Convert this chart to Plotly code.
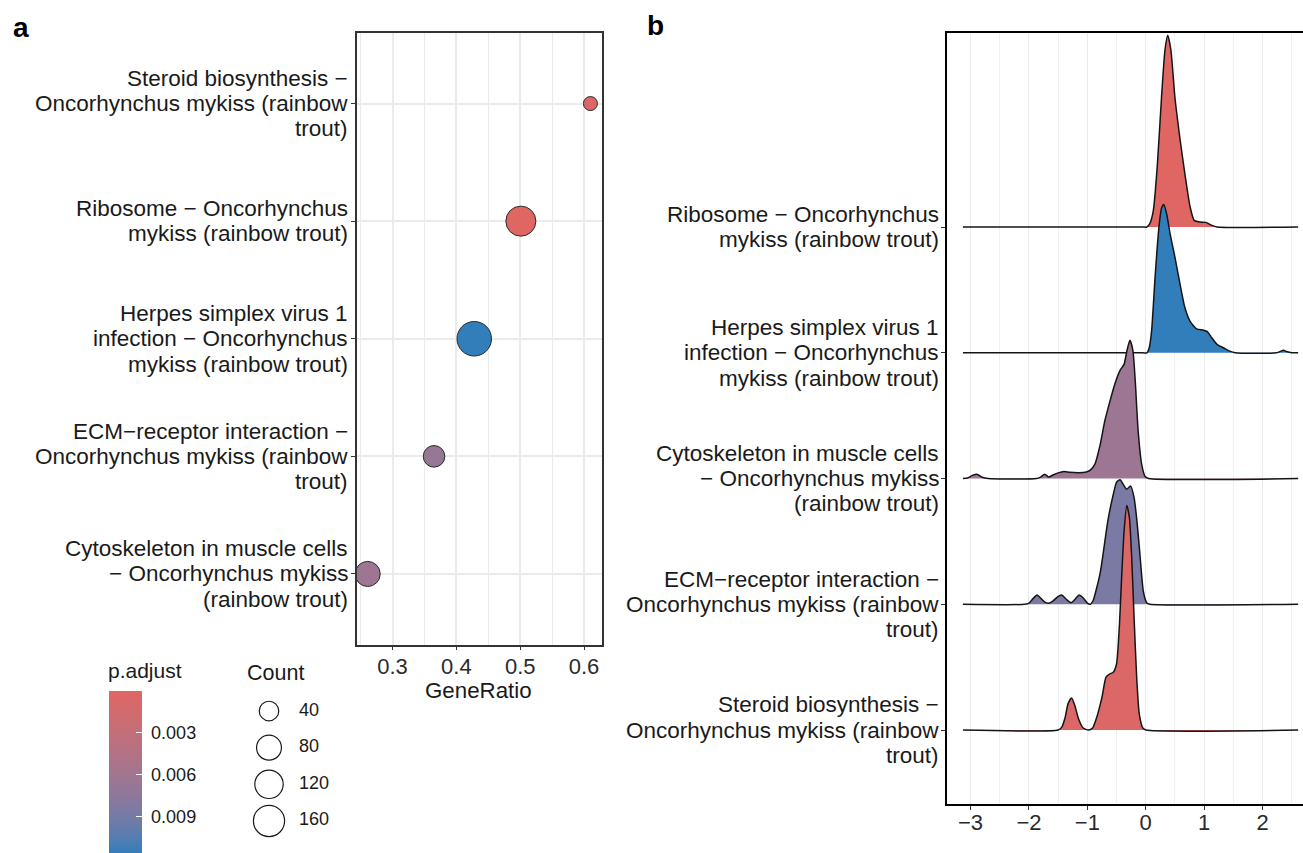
import math
import plotly.graph_objects as go

W, H = 1303, 853

# ---------------- data: panel a (dot plot) ----------------
dot_terms = [
    "Steroid biosynthesis − Oncorhynchus mykiss (rainbow trout)",
    "Ribosome − Oncorhynchus mykiss (rainbow trout)",
    "Herpes simplex virus 1 infection − Oncorhynchus mykiss (rainbow trout)",
    "ECM−receptor interaction − Oncorhynchus mykiss (rainbow trout)",
    "Cytoskeleton in muscle cells − Oncorhynchus mykiss (rainbow trout)",
]
gene_ratio = [0.610, 0.501, 0.428, 0.365, 0.261]
gene_count = [26, 143, 217, 52, 82]
p_adjust_dot = [0.00035, 0.00002, 0.0116, 0.0069, 0.0062]

gene_ratio_ticks = [0.3, 0.4, 0.5, 0.6]
gene_ratio_minor = [0.25, 0.35, 0.45, 0.55]
count_breaks = [40, 80, 120, 160]
padj_breaks = [0.003, 0.006, 0.009]

# wrapped labels (as printed in the figure)
label_lines = {
    dot_terms[0]: ["Steroid biosynthesis −", "Oncorhynchus mykiss (rainbow", "trout)"],
    dot_terms[1]: ["Ribosome − Oncorhynchus", "mykiss (rainbow trout)"],
    dot_terms[2]: ["Herpes simplex virus 1", "infection − Oncorhynchus", "mykiss (rainbow trout)"],
    dot_terms[3]: ["ECM−receptor interaction −", "Oncorhynchus mykiss (rainbow", "trout)"],
    dot_terms[4]: ["Cytoskeleton in muscle cells", "− Oncorhynchus mykiss", "(rainbow trout)"],
}

# ---------------- data: panel b (ridge plot) ----------------
ridge_terms = [  # top to bottom
    dot_terms[1], dot_terms[2], dot_terms[4], dot_terms[3], dot_terms[0]
]
p_adjust_ridge = [0.0001, 0.0121, 0.0067, 0.0091, 0.0007]

ribosome_x = [-3.13, -0.05, 0.02, 0.07, 0.13, 0.20, 0.27, 0.33, 0.377, 0.43, 0.50, 0.59, 0.67, 0.76, 0.83, 0.93, 1.03, 1.13, 1.22, 2.61]
ribosome_d = [0, 0, 0, 0.027, 0.13, 0.50, 1.03, 1.41, 1.525, 1.41, 1.03, 0.69, 0.425, 0.16, 0.053, 0.04, 0.037, 0.013, 0, 0]

herpes_x = [-3.13, -0.05, 0.02, 0.06, 0.10, 0.16, 0.22, 0.27, 0.31, 0.36, 0.42, 0.50, 0.59, 0.67, 0.76, 0.87, 0.99, 1.05, 1.13, 1.22, 1.33, 1.44, 1.53, 2.24, 2.36, 2.41, 2.50, 2.61]
herpes_d = [0, 0, 0, 0.04, 0.17, 0.60, 0.97, 1.15, 1.18, 1.10, 0.94, 0.76, 0.54, 0.36, 0.25, 0.19, 0.18, 0.17, 0.12, 0.067, 0.04, 0.013, 0, 0, 0.02, 0.01, 0, 0]

cyto_x = [-3.13, -3.05, -2.97, -2.89, -2.80, -2.70, -1.87, -1.80, -1.73, -1.66, -1.58, -1.50, -1.40, -1.30, -1.15, -1.02, -0.95, -0.87, -0.78, -0.70, -0.61, -0.53, -0.44, -0.37, -0.32, -0.27, -0.22, -0.18, -0.13, -0.07, -0.01, 0.05, 2.61]
cyto_d = [0, 0.005, 0.025, 0.035, 0.01, 0, 0, 0.012, 0.035, 0.012, 0.03, 0.045, 0.056, 0.05, 0.047, 0.052, 0.067, 0.115, 0.27, 0.46, 0.62, 0.75, 0.86, 0.91, 1.02, 1.10, 1.02, 0.78, 0.38, 0.115, 0.016, 0, 0]

ecm_x = [-3.13, -2.07, -2.00, -1.93, -1.86, -1.79, -1.72, -1.65, -1.58, -1.51, -1.44, -1.36, -1.28, -1.21, -1.14, -1.07, -1.00, -0.95, -0.90, -0.84, -0.78, -0.73, -0.65, -0.555, -0.50, -0.44, -0.38, -0.33, -0.26, -0.20, -0.15, -0.10, -0.04, 0.02, 0.07, 2.61]
ecm_d = [0, 0, 0.01, 0.045, 0.074, 0.045, 0.015, 0.01, 0.03, 0.06, 0.074, 0.04, 0.013, 0.04, 0.074, 0.05, 0.01, 0, 0.03, 0.13, 0.25, 0.40, 0.66, 0.875, 0.97, 0.99, 0.95, 0.915, 0.94, 0.85, 0.66, 0.40, 0.10, 0.01, 0, 0]

steroid_x = [-3.13, -1.50, -1.44, -1.38, -1.33, -1.27, -1.21, -1.15, -1.07, -0.98, -0.91, -0.84, -0.75, -0.68, -0.62, -0.555, -0.50, -0.45, -0.41, -0.37, -0.325, -0.28, -0.24, -0.20, -0.155, -0.11, -0.05, 0.005, 2.61]
steroid_d = [0, 0, 0.021, 0.10, 0.21, 0.255, 0.19, 0.088, 0.016, 0, 0.016, 0.10, 0.26, 0.42, 0.445, 0.46, 0.525, 0.84, 1.24, 1.585, 1.785, 1.69, 1.37, 0.90, 0.42, 0.127, 0.016, 0, 0]

ridge_x = [ribosome_x, herpes_x, cyto_x, ecm_x, steroid_x]
ridge_d = [ribosome_d, herpes_d, cyto_d, ecm_d, steroid_d]
ridge_ticks = [-3, -2, -1, 0, 1, 2]
ridge_minor = [-2.5, -1.5, -0.5, 0.5, 1.5, 2.5]

# ---------------- helpers ----------------
LOW_COL, HIGH_COL = "#e06663", "#327eba"


def _hex(h):
    return [int(h[i:i + 2], 16) / 255 for i in (1, 3, 5)]


def _lin(c):
    return c / 12.92 if c <= 0.04045 else ((c + 0.055) / 1.055) ** 2.4


def _unlin(c):
    c = min(max(c, 0.0), 1.0)
    return 12.92 * c if c <= 0.0031308 else 1.055 * c ** (1 / 2.4) - 0.055


def _to_lab(h):
    r, g, b = [_lin(c) for c in _hex(h)]
    X = (0.4124564 * r + 0.3575761 * g + 0.1804375 * b) / 0.95047
    Y = 0.2126729 * r + 0.7151522 * g + 0.0721750 * b
    Z = (0.0193339 * r + 0.1191920 * g + 0.9503041 * b) / 1.08883
    f = lambda t: t ** (1 / 3) if t > (6 / 29) ** 3 else t / (3 * (6 / 29) ** 2) + 4 / 29
    return (116 * f(Y) - 16, 500 * (f(X) - f(Y)), 200 * (f(Y) - f(Z)))


def _from_lab(L, a, b):
    fy = (L + 16) / 116
    fx = fy + a / 500
    fz = fy - b / 200
    fi = lambda t: t ** 3 if t > 6 / 29 else 3 * (6 / 29) ** 2 * (t - 4 / 29)
    X, Y, Z = fi(fx) * 0.95047, fi(fy), fi(fz) * 1.08883
    r = 3.2404542 * X - 1.5371385 * Y - 0.4985314 * Z
    g = -0.9692660 * X + 1.8760108 * Y + 0.0415560 * Z
    bb = 0.0556434 * X - 0.2040259 * Y + 1.0572252 * Z
    return "#%02x%02x%02x" % tuple(int(round(_unlin(c) * 255)) for c in (r, g, bb))


_LAB_LO, _LAB_HI = _to_lab(LOW_COL), _to_lab(HIGH_COL)


def gradient(t):
    t = min(max(t, 0.0), 1.0)
    return _from_lab(*[lo + (hi - lo) * t for lo, hi in zip(_LAB_LO, _LAB_HI)])


def px_x(p):
    return p / W


def px_y(p):
    return 1 - p / H


D_MIN, D_MAX = 14.0, 34.5
c_lo, c_hi = min(gene_count), max(gene_count)


def diam(c):
    return D_MIN + (D_MAX - D_MIN) * math.sqrt(max(c - c_lo, 0) / (c_hi - c_lo))


FONT = "Liberation Sans, Arial, sans-serif"
TXT = "#1a1a1a"
TICK_TXT = "#2b2b2b"
NBSP = "\u00a0"

# colour scale: negated p.adjust so small values (red) sit at the top of the bar
p_lo, p_hi = min(p_adjust_dot), max(p_adjust_dot)
colorscale = [[i / 10, gradient(1 - i / 10)] for i in range(11)]
BAR_TOP = 690.7
BAR_SCALE = 14000  # px per unit p.adjust
BAR_LEN = min((p_hi - p_lo) * BAR_SCALE, H - BAR_TOP - 0.5)
BAR_X0, BAR_W = 109, 33

fig = go.Figure()

# ---------------- panel a ----------------
n_dot = len(dot_terms)
dot_pos = [n_dot - 1 - i for i in range(n_dot)]
fig.add_trace(go.Scatter(
    x=gene_ratio, y=dot_pos, mode="markers", xaxis="x", yaxis="y",
    marker=dict(
        size=[diam(c) for c in gene_count], sizemode="diameter", opacity=1,
        color=[-p for p in p_adjust_dot], colorscale=colorscale,
        cmin=-p_hi, cmax=-p_lo,
        line=dict(color="#2a2a2a", width=1.0),
        showscale=True,
        colorbar=dict(
            x=px_x(BAR_X0), xanchor="left", xpad=0,
            y=px_y(BAR_TOP), yanchor="top", ypad=0,
            lenmode="pixels", len=BAR_LEN,
            thicknessmode="pixels", thickness=BAR_W,
            outlinewidth=0,
            tickvals=[-v for v in padj_breaks],
            ticktext=[NBSP + f"{v:.3f}" for v in padj_breaks],
            ticks="inside", ticklen=6, tickcolor="white", tickwidth=1.3,
            tickfont=dict(family=FONT, size=18, color=TXT),
        ),
    ),
    hoverinfo="skip", showlegend=False,
))

# count legend
fig.add_trace(go.Scatter(
    x=[269] * len(count_breaks), y=list(range(len(count_breaks))), mode="markers",
    xaxis="x3", yaxis="y3",
    marker=dict(size=[diam(c) for c in count_breaks], color="rgba(255,255,255,0)", opacity=1,
                line=dict(color="#1a1a1a", width=1.2)),
    hoverinfo="skip", showlegend=False,
))
fig.add_trace(go.Scatter(
    x=[299] * len(count_breaks), y=list(range(len(count_breaks))), mode="text",
    text=[str(c) for c in count_breaks], textposition="middle right",
    textfont=dict(family=FONT, size=18, color=TXT),
    xaxis="x3", yaxis="y3", hoverinfo="skip", showlegend=False,
))

# ---------------- panel b ----------------
n_r = len(ridge_terms)
pr_lo, pr_hi = min(p_adjust_ridge), max(p_adjust_ridge)
for k in range(n_r):
    base = n_r - 1 - k
    fig.add_trace(go.Scatter(
        x=ridge_x[k], y=[base + d for d in ridge_d[k]], mode="lines",
        line=dict(color="#151515", width=1.5, shape="spline", smoothing=0.6),
        fill="toself", fillcolor=gradient((p_adjust_ridge[k] - pr_lo) / (pr_hi - pr_lo)),
        xaxis="x2", yaxis="y2", hoverinfo="skip", showlegend=False,
    ))

# ---------------- axis label annotations ----------------
ann = []
LH = 25.3
LABEL_SIZE = 22.5
for i, term in enumerate(dot_terms):
    lines = label_lines[term]
    n = len(lines)
    for j, ln in enumerate(lines):
        ann.append(dict(xref="paper", yref="y", x=px_x(348), y=dot_pos[i], xanchor="right",
                        yanchor="middle", yshift=((n - 1) / 2 - j) * LH, text=ln, showarrow=False,
                        borderpad=0, borderwidth=0,
                        font=dict(family=FONT, size=LABEL_SIZE, color=TXT)))
for k, term in enumerate(ridge_terms):
    lines = label_lines[term]
    n = len(lines)
    for j, ln in enumerate(lines):
        ann.append(dict(xref="paper", yref="y2", x=px_x(939), y=n_r - 1 - k, xanchor="right",
                        yanchor="middle", yshift=((n - 1) / 2 - j) * LH, text=ln, showarrow=False,
                        borderpad=0, borderwidth=0,
                        font=dict(family=FONT, size=LABEL_SIZE, color=TXT)))

ann += [
    dict(xref="paper", yref="paper", x=px_x(479), y=px_y(690), text="GeneRatio", showarrow=False,
         xanchor="center", yanchor="middle", font=dict(family=FONT, size=22.3, color=TXT)),
    dict(xref="paper", yref="paper", x=px_x(106), y=px_y(670.7), text="p.adjust", showarrow=False,
         xanchor="left", yanchor="middle", font=dict(family=FONT, size=21, color=TXT)),
    dict(xref="paper", yref="paper", x=px_x(245), y=px_y(673), text="Count", showarrow=False,
         xanchor="left", yanchor="middle", font=dict(family=FONT, size=21.5, color=TXT)),
    dict(xref="paper", yref="paper", x=px_x(11), y=px_y(27), text="<b>a</b>", showarrow=False,
         xanchor="left", yanchor="middle", font=dict(family=FONT, size=28, color="black")),
    dict(xref="paper", yref="paper", x=px_x(645), y=px_y(26), text="<b>b</b>", showarrow=False,
         xanchor="left", yanchor="middle", font=dict(family=FONT, size=28, color="black")),
]

# white tick dashes on the left edge of the colour bar (ggplot style)
shapes = []
for v in padj_breaks:
    ty = BAR_TOP + (v - p_lo) * BAR_SCALE
    shapes.append(dict(type="line", xref="paper", yref="paper",
                       x0=px_x(BAR_X0), x1=px_x(BAR_X0 + 6), y0=px_y(ty), y1=px_y(ty),
                       line=dict(color="white", width=1.3), layer="above"))

GRID = "#EBEBEB"
fig.update_layout(
    width=W, height=H, margin=dict(l=0, r=0, t=0, b=0),
    paper_bgcolor="white", plot_bgcolor="white",
    font=dict(family=FONT, color=TXT),
    annotations=ann, shapes=shapes,
    xaxis=dict(
        domain=[px_x(356.5), px_x(601.6)], range=[0.2435, 0.6275], anchor="y",
        tickvals=gene_ratio_ticks, ticktext=[f"{v:.1f}" for v in gene_ratio_ticks],
        showgrid=True, gridcolor=GRID, gridwidth=1.6, zeroline=False,
        minor=dict(tickvals=gene_ratio_minor, showgrid=True, gridcolor=GRID, gridwidth=1.0),
        showline=True, mirror=True, linecolor="#333333", linewidth=1.6,
        ticks="outside", ticklen=4, tickcolor="#333333", tickwidth=1,
        ticklabelstandoff=-3,
        tickfont=dict(family=FONT, size=22, color=TICK_TXT),
    ),
    yaxis=dict(
        domain=[px_y(644.5), px_y(33)], range=[-0.6, n_dot - 0.4], anchor="x",
        tickvals=list(range(n_dot)), showticklabels=False,
        showgrid=True, gridcolor=GRID, gridwidth=1.6, zeroline=False,
        showline=True, mirror=True, linecolor="#333333", linewidth=1.6,
        ticks="outside", ticklen=4, tickcolor="#333333", tickwidth=1,
    ),
    xaxis2=dict(
        domain=[px_x(946.7), 1.0], range=[-3.408, 2.693], anchor="y2",
        tickvals=ridge_ticks,
        showgrid=True, gridcolor=GRID, gridwidth=1.1, zeroline=False,
        minor=dict(tickvals=ridge_minor, showgrid=True, gridcolor="#F0F0F0", gridwidth=0.9),
        showline=True, mirror=True, linecolor="black", linewidth=2,
        ticks="outside", ticklen=4, tickcolor="#333333", tickwidth=1,
        ticklabelstandoff=-6,
        tickfont=dict(family=FONT, size=22, color=TICK_TXT),
    ),
    yaxis2=dict(
        domain=[px_y(804), px_y(33)], range=[-0.588, n_r - 1 + 1.543], anchor="x2",
        tickvals=list(range(n_r)), showticklabels=False,
        showgrid=False, zeroline=False,
        showline=True, mirror=False, linecolor="black", linewidth=2,
        ticks="outside", ticklen=4, tickcolor="#333333", tickwidth=1,
    ),
    xaxis3=dict(domain=[px_x(240), px_x(340)], range=[240, 340], visible=False, anchor="y3"),
    yaxis3=dict(domain=[px_y(839.3), px_y(692.7)], range=[len(count_breaks) - 0.5, -0.5],
                visible=False, anchor="x3"),
)

fig.write_html(
    "out.html",
    config={"displayModeBar": False},
    post_script="document.body.style.margin='0';document.documentElement.style.overflow='hidden';document.body.style.overflow='hidden';",
)
